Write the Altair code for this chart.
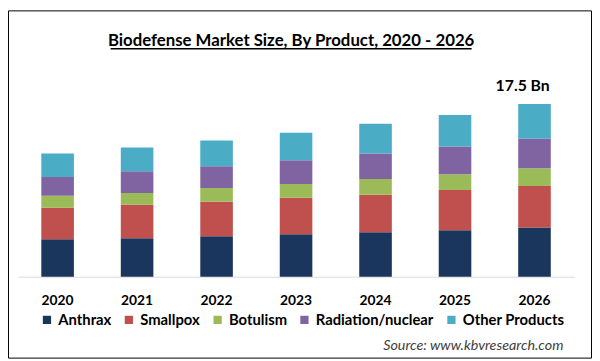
import altair as alt
import pandas as pd

years = ["2020", "2021", "2022", "2023", "2024", "2025", "2026"]
products = ["Anthrax", "Smallpox", "Botulism", "Radiation/nuclear", "Other Products"]
anthrax = [3.8, 3.9, 4.1, 4.3, 4.5, 4.7, 5.0]
smallpox = [3.2, 3.4, 3.5, 3.7, 3.8, 4.1, 4.2]
botulism = [1.2, 1.2, 1.4, 1.4, 1.6, 1.6, 1.8]
radiation = [1.9, 2.2, 2.2, 2.4, 2.6, 2.8, 3.0]
other = [2.4, 2.4, 2.6, 2.8, 3.0, 3.2, 3.5]
colors = ["#1B365D", "#C0504D", "#9BBB59", "#8064A2", "#4BACC6"]

title_text = "Biodefense Market Size, By Product, 2020 - 2026"
source_text = "Source: www.kbvresearch.com"
callout_year = "2026"
callout_value = 17.5
callout_text = "17.5 Bn"

series = [anthrax, smallpox, botulism, radiation, other]
rows = []
for i, (name, vals) in enumerate(zip(products, series)):
    for y, v in zip(years, vals):
        rows.append({"year": y, "product": name, "value": v, "idx": i})
df = pd.DataFrame(rows)

FONT = "Lato"

xscale = alt.Scale(domain=years, paddingInner=0.59, paddingOuter=0.295)
yscale = alt.Scale(domain=[0, 20])

bars = alt.Chart(df).mark_bar().encode(
    x=alt.X("year:N", scale=xscale, sort=years,
            axis=alt.Axis(title=None, labelAngle=0, ticks=False, domainColor="#d9d9d9",
                          domainWidth=1, labelFont=FONT, labelFontSize=14,
                          labelFontWeight="bold", labelColor="#000000",
                          labelPadding=24, labelBaseline="middle")),
    y=alt.Y("value:Q", stack="zero", scale=yscale, axis=None),
    color=alt.Color("product:N", scale=alt.Scale(domain=products, range=colors),
                    legend=alt.Legend(title=None, orient="none", legendX=22, legendY=236,
                                      direction="horizontal", symbolType="square",
                                      symbolSize=70, symbolStrokeWidth=0,
                                      labelFont=FONT, labelFontSize=15,
                                      labelFontWeight="bold", labelColor="#000000",
                                      labelOffset=4, columnPadding=10, padding=0)),
    order=alt.Order("idx:Q", sort="ascending"),
)

callout = alt.Chart(pd.DataFrame({"year": [callout_year], "value": [callout_value],
                                  "t": [callout_text]})).mark_text(
    font=FONT, fontSize=16, fontWeight="bold", color="#000000",
    align="center", baseline="alphabetic", dx=-12, dy=-13,
).encode(x=alt.X("year:N", scale=xscale, sort=years), y=alt.Y("value:Q", scale=yscale),
         text="t:N")

title = alt.Chart(pd.DataFrame({"t": [title_text]})).mark_text(
    font=FONT, fontSize=17, fontWeight="bold", color="#000000",
    align="center", baseline="alphabetic",
).encode(x=alt.value(277), y=alt.value(-34), text="t:N")

underline = alt.Chart(pd.DataFrame({"t": [title_text]})).mark_rule(
    color="#000000", strokeWidth=1.5,
).encode(x=alt.value(94), x2=alt.value(460), y=alt.value(-31))

source = alt.Chart(pd.DataFrame({"t": [source_text]})).mark_text(
    font=FONT, fontSize=14.5, fontStyle="italic", color="#404040",
    align="right", baseline="alphabetic",
).encode(x=alt.value(553), y=alt.value(274), text="t:N")

frame = alt.Chart(pd.DataFrame({"t": [0]})).mark_rect(
    fill=None, stroke="#000000", strokeWidth=1,
).encode(x=alt.value(-9.5), x2=alt.value(581.5), y=alt.value(-69.5), y2=alt.value(282.5))

chart = alt.layer(bars, callout, title, underline, source, frame).properties(
    width=564, height=200,
    autosize=alt.AutoSizeParams(type="none"),
    padding={"left": 10, "right": 18, "top": 70, "bottom": 83},
    background="#ffffff",
).configure_view(stroke=None)

chart.save("out.html", embed_options={"renderer": "svg", "actions": False})
